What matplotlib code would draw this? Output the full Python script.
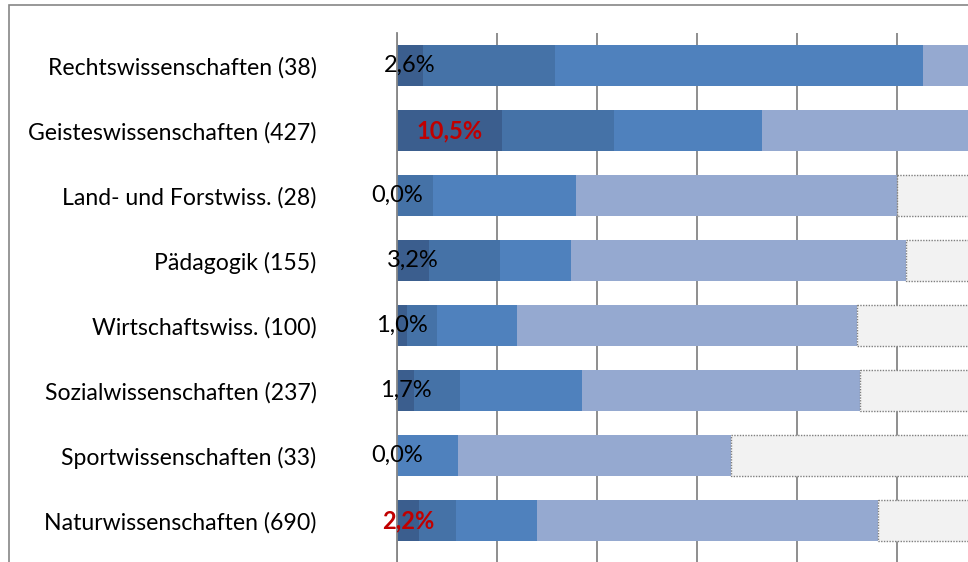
import numpy as np
import matplotlib.pyplot as plt
from matplotlib.patches import Rectangle

# categories (top to bottom) and shares per answer group in percent
categories = ['Rechtswissenschaften (38)', 'Geisteswissenschaften (427)',
              'Land- und Forstwiss. (28)', 'Pädagogik (155)',
              'Wirtschaftswiss. (100)', 'Sozialwissenschaften (237)',
              'Sportwissenschaften (33)', 'Naturwissenschaften (690)']
s1 = [2.6, 10.5, 0.0, 3.2, 1.0, 1.7, 0.0, 2.2]
s2 = [13.2, 11.2, 3.6, 7.1, 3.0, 4.6, 0.0, 3.7]
s3 = [36.8, 14.8, 14.3, 7.1, 8.0, 12.2, 6.1, 8.1]
s4 = [47.4, 35.0, 32.1, 33.5, 34.0, 27.8, 27.3, 34.1]
s5 = [0.0, 28.5, 50.0, 49.1, 54.0, 53.7, 66.6, 51.9]
labels = ['2,6%', '10,5%', '0,0%', '3,2%', '1,0%', '1,7%', '0,0%', '2,2%']
highlight = [False, True, False, False, False, False, False, True]

colors = ['#3b5e8e', '#4572a7', '#4f81bd', '#95a9d0']
W, H = 968, 562

plt.rcParams['font.family'] = ['Lato', 'DejaVu Sans']
fig = plt.figure(figsize=(W / 100, H / 100), dpi=100)

# outer chart frame (cropped on the right and bottom)
fig.patches.append(Rectangle((9 / W, -0.1), 1.2, 1.1 - 5 / H, transform=fig.transFigure,
                             fill=False, edgecolor='#868686', linewidth=1.2))

ax = fig.add_axes([397 / W, 0, 1000 / W, 1 - 33 / H])
y = np.arange(len(categories))
h = 0.646

left = np.zeros(len(categories))
for vals, c in zip([s1, s2, s3, s4], colors):
    ax.barh(y, vals, left=left, height=h, color=c, edgecolor='none', zorder=2)
    left += np.array(vals)
ax.barh(y, s5, left=left, height=h, color='#f2f2f2', edgecolor='#7f7f7f',
        linestyle=(0, (1, 1)), linewidth=1.0, zorder=2)

for i in range(len(categories)):
    if highlight[i]:
        ax.text(s1[i] / 2, y[i], labels[i], ha='center', va='center', fontsize=17,
                color='#c00000', fontweight='bold', zorder=3)
    else:
        ax.text(s1[i] / 2, y[i], labels[i], ha='center', va='center', fontsize=17,
                color='black', zorder=3)

ax.set_xlim(0, 100)
ax.set_ylim(7.5 + 9 / 65, -0.5)
ax.set_xticks(np.arange(0, 101, 10))
ax.set_xticklabels([])
ax.grid(axis='x', color='#868686', linewidth=1.3, zorder=0)
ax.set_yticks(y)
ax.set_yticklabels(categories, fontsize=16.6)
ax.tick_params(axis='y', length=0, pad=58)
ax.tick_params(axis='x', length=0)
for side in ['top', 'right', 'bottom']:
    ax.spines[side].set_visible(False)
ax.spines['left'].set_color('#868686')
ax.spines['left'].set_linewidth(1.3)

fig.savefig('out.png', dpi=100)
